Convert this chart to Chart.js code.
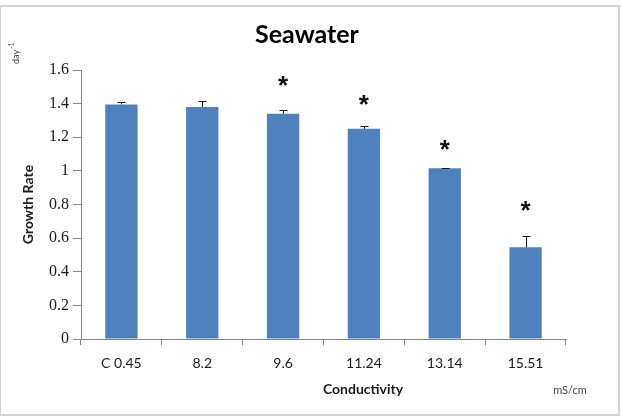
<!DOCTYPE html>
<html>
<head>
<meta charset="utf-8">
<script src="https://cdn.jsdelivr.net/npm/chart.js@4"></script>
<style>
  html, body { margin: 0; padding: 0; background: #fff; }
  #wrap { position: relative; width: 621px; height: 418px; }
</style>
</head>
<body>
<div id="wrap"><canvas id="growthChart" width="621" height="418"></canvas></div>
<script>
// data
const conductivity = ["C 0.45", "8.2", "9.6", "11.24", "13.14", "15.51"];
const growthRate = [1.395, 1.38, 1.34, 1.25, 1.015, 0.545];
const growthErr = [0.015, 0.035, 0.025, 0.015, 0.005, 0.07];
// where the significance asterisks sit (in growth-rate units)
const starLevel = [null, null, 1.535, 1.42, 1.155, 0.79];
const yMin = 0;
const yMax = 1.6;
const yStep = 0.2;

const axisGray = "#868686";

// plus-only error bars, like the Excel original
const errorBars = {
  id: "errorBars",
  afterDatasetsDraw(chart) {
    const ctx = chart.ctx;
    const yScale = chart.scales.y;
    const meta = chart.getDatasetMeta(0);
    ctx.save();
    ctx.strokeStyle = "#1a1a1a";
    ctx.lineWidth = 1;
    meta.data.forEach((bar, i) => {
      const x = Math.round(bar.x) + 0.5;
      const top = Math.round(yScale.getPixelForValue(growthRate[i] + growthErr[i])) + 0.5;
      ctx.beginPath();
      ctx.moveTo(x, bar.y);
      ctx.lineTo(x, top);
      ctx.moveTo(x - 4, top);
      ctx.lineTo(x + 4, top);
      ctx.stroke();
    });
    ctx.restore();
  },
};

const stars = {
  id: "stars",
  afterDatasetsDraw(chart) {
    const ctx = chart.ctx;
    const yScale = chart.scales.y;
    const meta = chart.getDatasetMeta(0);
    ctx.save();
    ctx.fillStyle = "#111";
    ctx.font = "bold 26px 'Liberation Sans'";
    ctx.textAlign = "center";
    ctx.textBaseline = "middle";
    meta.data.forEach((bar, i) => {
      if (starLevel[i] == null) return;
      ctx.fillText("*", bar.x, yScale.getPixelForValue(starLevel[i]) + 6);
    });
    ctx.restore();
  },
};

// frame, title, x title and unit labels
const extras = {
  id: "extras",
  beforeDraw(chart) {
    const ctx = chart.ctx;
    ctx.save();
    ctx.fillStyle = "#fff";
    ctx.fillRect(0, 0, chart.width, chart.height);
    ctx.strokeStyle = "#d4d4d4";
    ctx.lineWidth = 2;
    ctx.strokeRect(0, 6, 619, 409);
    ctx.restore();
  },
  afterDraw(chart) {
    const ctx = chart.ctx;
    ctx.save();
    ctx.textAlign = "center";
    ctx.textBaseline = "middle";

    ctx.fillStyle = "#000";
    ctx.font = "bold 25px Lato";
    ctx.fillText("Seawater", 307, 35);

    ctx.fillStyle = "#1a1a1a";
    ctx.font = "bold 14px Lato";
    ctx.fillText("Conductivity", 363, 389);

    ctx.fillStyle = "#444";
    ctx.font = "11px Lato";
    ctx.fillText("mS/cm", 570, 390);

    // rotated "day-1"
    ctx.translate(16, 52);
    ctx.rotate(-Math.PI / 2);
    ctx.textAlign = "left";
    ctx.font = "9px Lato";
    ctx.fillText("day", -12, 0);
    ctx.font = "7px Lato";
    ctx.fillText("-1", 3, -4);
    ctx.restore();
  },
};

const ctx = document.getElementById("growthChart").getContext("2d");

new Chart(ctx, {
  type: "bar",
  data: {
    labels: conductivity,
    datasets: [
      {
        label: "Growth Rate",
        data: growthRate,
        backgroundColor: "#4f81bd",
        borderWidth: 0,
        categoryPercentage: 1,
        barPercentage: 0.4,
      },
    ],
  },
  options: {
    responsive: false,
    animation: false,
    devicePixelRatio: 1,
    layout: {
      padding: { top: 70, left: 0, right: 55, bottom: 0 },
    },
    plugins: {
      legend: { display: false },
      tooltip: { enabled: false },
      title: { display: false },
    },
    scales: {
      x: {
        grid: {
          offset: true,
          drawOnChartArea: false,
          tickLength: 6,
          color: axisGray,
        },
        border: { color: axisGray },
        ticks: {
          color: "#1a1a1a",
          font: { family: "Lato", size: 14 },
          padding: 10,
        },
        afterFit(scale) {
          scale.height = 79;
        },
      },
      y: {
        min: yMin,
        max: yMax,
        grid: {
          drawOnChartArea: false,
          tickLength: 8,
          color: axisGray,
        },
        border: { color: axisGray },
        ticks: {
          stepSize: yStep,
          color: "#1a1a1a",
          font: { family: "Liberation Serif", size: 16 },
          padding: 4,
          callback: (v) => String(Number(v.toFixed(1))),
        },
        title: {
          display: true,
          text: "Growth Rate",
          color: "#1a1a1a",
          font: { family: "Lato", size: 14, weight: "bold" },
          padding: { top: 20, bottom: 0 },
        },
        afterFit(scale) {
          scale.width = 81;
        },
      },
    },
  },
  plugins: [extras, errorBars, stars],
});
</script>
</body>
</html>
